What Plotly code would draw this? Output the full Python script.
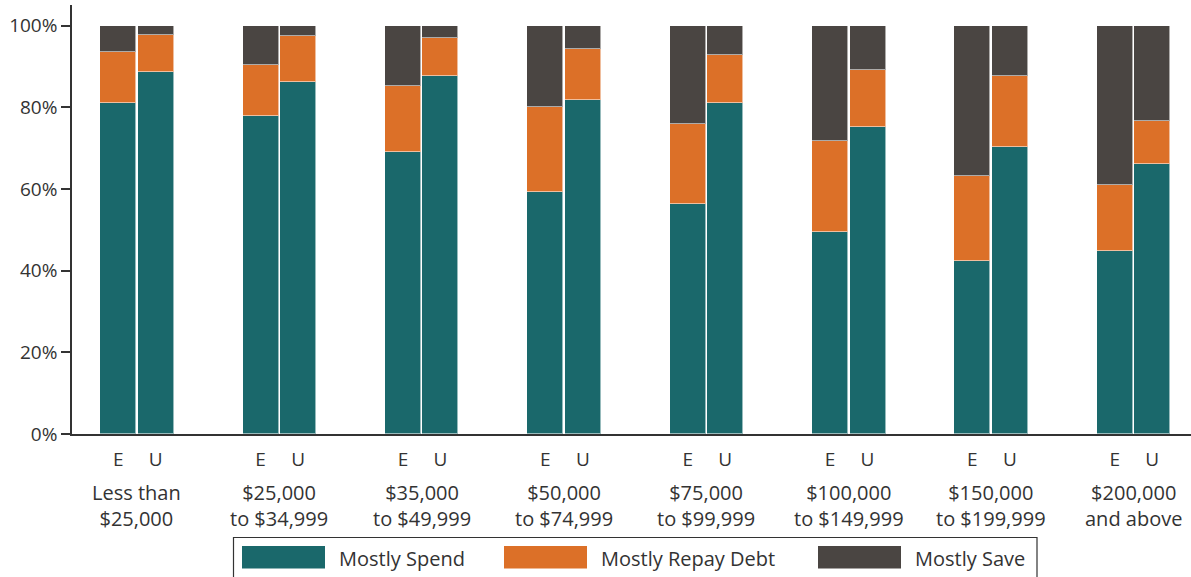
import plotly.graph_objects as go

groups = ["Less than<br>$25,000", "$25,000<br>to $34,999", "$35,000<br>to $49,999",
          "$50,000<br>to $74,999", "$75,000<br>to $99,999", "$100,000<br>to $149,999",
          "$150,000<br>to $199,999", "$200,000<br>and above"]
sub_labels = ["E", "U"]

spend_E = [81.1, 77.8, 69.0, 59.4, 56.3, 49.6, 42.4, 44.9]
debt_E  = [12.5, 12.6, 16.3, 20.7, 19.7, 22.1, 20.9, 16.0]
save_E  = [6.4, 9.6, 14.7, 19.9, 24.0, 28.3, 36.7, 39.1]

spend_U = [88.6, 86.2, 87.6, 81.9, 81.2, 75.3, 70.3, 66.1]
debt_U  = [9.2, 11.2, 9.5, 12.4, 11.7, 13.9, 17.3, 10.6]
save_U  = [2.2, 2.6, 2.9, 5.7, 7.1, 10.8, 12.4, 23.3]

series_names = ["Mostly Spend", "Mostly Repay Debt", "Mostly Save"]
colors = ["#1a686b", "#dc7028", "#4a4542"]
y_ticks = [0, 20, 40, 60, 80, 100]

off = 0.1317
bw = 0.253
n = len(groups)
xE = [i - off for i in range(n)]
xU = [i + off for i in range(n)]
xs = xE + xU
series_vals = [spend_E + spend_U, debt_E + debt_U, save_E + save_U]

FONT = "Open Sans"
TXT = "#333333"

fig = go.Figure()
for name, col, vals in zip(series_names, colors, series_vals):
    fig.add_trace(go.Bar(
        x=xs, y=vals, name=name, width=bw,
        marker=dict(color=col, line=dict(color="rgba(255,255,255,0.55)", width=1)),
        showlegend=False,
    ))

tv, tt = [], []
for i in range(n):
    tv += [xE[i], xU[i]]
    tt += sub_labels

fig.update_layout(
    barmode="stack",
    width=1191, height=577,
    margin=dict(l=72, r=0, t=5, b=143),
    plot_bgcolor="white", paper_bgcolor="white",
    font=dict(family=FONT, color=TXT, size=19),
    bargap=0,
)
fig.update_xaxes(
    range=[-0.4565, 7.404], tickvals=tv, ticktext=tt, ticks="",
    showline=True, linecolor="#333333", linewidth=1.5, showgrid=False, zeroline=False,
    tickfont=dict(size=19, color=TXT), ticklabelstandoff=7,
)
fig.update_yaxes(
    range=[0, 105.1], tickvals=y_ticks, ticktext=[f"{v}%" for v in y_ticks],
    ticks="outside", ticklen=9, tickcolor="#333333", tickwidth=1.5,
    showline=True, linecolor="#333333", linewidth=1.5, showgrid=False, zeroline=False,
    tickfont=dict(size=19, color=TXT),
)

W, H = 1119.0, 429.0
def px(xp):
    return (xp - 72) / W
def py(yp):
    return (434 - yp) / H

for i in range(n):
    fig.add_annotation(x=i, xref="x", y=py(505), yref="paper", yanchor="middle",
                       text=groups[i], showarrow=False, font=dict(size=20, color=TXT))

fig.add_shape(type="rect", xref="paper", yref="paper",
              x0=px(233.5), x1=px(1037), y0=py(537.5), y1=py(600),
              line=dict(color="#333333", width=1.2), fillcolor="rgba(0,0,0,0)")
sw_x = [242, 504, 818]
for name, col, sx in zip(series_names, colors, sw_x):
    fig.add_shape(type="rect", xref="paper", yref="paper",
                  x0=px(sx), x1=px(sx + 83), y0=py(546), y1=py(568.5),
                  line=dict(width=0), fillcolor=col)
    fig.add_annotation(x=px(sx + 95), xref="paper", y=py(558), yref="paper",
                       xanchor="left", yanchor="middle", text=name, showarrow=False,
                       font=dict(size=20, color=TXT))

fig.write_html("out.html")
